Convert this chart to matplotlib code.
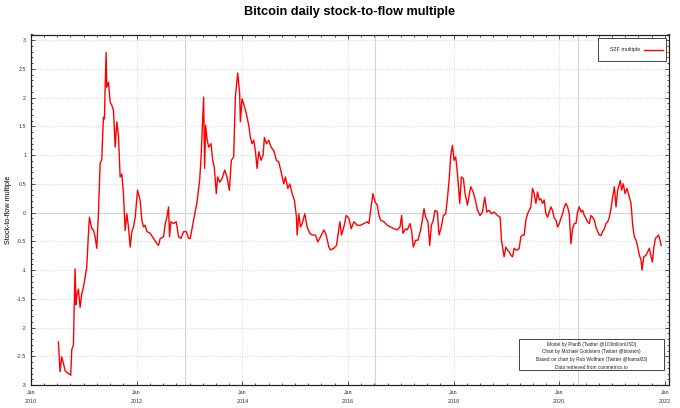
import matplotlib
matplotlib.use("Agg")
import matplotlib.pyplot as plt
import matplotlib.dates as mdates
from matplotlib.ticker import MultipleLocator, FuncFormatter
from matplotlib.patches import Rectangle
from matplotlib.lines import Line2D
import numpy as np
import pandas as pd

plt.rcParams["font.family"] = ["Liberation Sans", "DejaVu Sans"]

# decimal year of each reading, and the stock-to-flow multiple
years = [
    2010.518, 2010.550, 2010.581, 2010.613, 2010.645, 2010.689, 2010.727, 2010.752, 2010.771, 2010.803,
    2010.815, 2010.834, 2010.853, 2010.866, 2010.897, 2010.929, 2010.961, 2010.992, 2011.036, 2011.055,
    2011.087, 2011.106, 2011.150, 2011.182, 2011.213, 2011.245, 2011.276, 2011.308, 2011.340, 2011.352,
    2011.371, 2011.390, 2011.403, 2011.422, 2011.434, 2011.466, 2011.498, 2011.529, 2011.561, 2011.592,
    2011.624, 2011.656, 2011.687, 2011.719, 2011.750, 2011.782, 2011.814, 2011.845, 2011.877, 2011.908,
    2011.940, 2011.972, 2012.016, 2012.066, 2012.098, 2012.129, 2012.161, 2012.193, 2012.256, 2012.319,
    2012.382, 2012.414, 2012.445, 2012.509, 2012.540, 2012.572, 2012.603, 2012.622, 2012.647, 2012.698,
    2012.749, 2012.793, 2012.837, 2012.888, 2012.938, 2012.983,
    2013.014, 2013.077, 2013.141, 2013.191, 2013.216, 2013.242, 2013.267, 2013.286, 2013.305, 2013.330,
    2013.362, 2013.406, 2013.438, 2013.469, 2013.507, 2013.532, 2013.570, 2013.615, 2013.665, 2013.709,
    2013.754, 2013.791, 2013.836, 2013.867, 2013.912, 2013.949, 2013.962, 2013.994, 2014.025, 2014.069,
    2014.120, 2014.152, 2014.183, 2014.215, 2014.246, 2014.278, 2014.310, 2014.354, 2014.392, 2014.417,
    2014.455, 2014.499, 2014.543, 2014.594, 2014.645, 2014.689, 2014.733, 2014.784, 2014.815, 2014.860,
    2014.897, 2014.942, 2014.986, 2015.024, 2015.036, 2015.068, 2015.100, 2015.131, 2015.182, 2015.226,
    2015.276, 2015.321, 2015.384, 2015.428, 2015.479, 2015.542, 2015.586, 2015.637, 2015.668, 2015.731,
    2015.782, 2015.845, 2015.877, 2015.921, 2015.965, 2016.016,
    2016.060, 2016.111, 2016.174, 2016.237, 2016.300, 2016.363, 2016.395, 2016.427, 2016.471, 2016.509,
    2016.553, 2016.585, 2016.616, 2016.679, 2016.742, 2016.806, 2016.869, 2016.932, 2016.983, 2017.014,
    2017.039, 2017.090, 2017.122, 2017.172, 2017.204, 2017.235, 2017.280, 2017.324, 2017.374, 2017.406,
    2017.438, 2017.469, 2017.513, 2017.545, 2017.577, 2017.614, 2017.646, 2017.690, 2017.722, 2017.766,
    2017.804, 2017.848, 2017.880, 2017.912, 2017.943, 2017.975, 2018.006, 2018.038, 2018.070, 2018.114,
    2018.145, 2018.183, 2018.215, 2018.259, 2018.291, 2018.322, 2018.367, 2018.417, 2018.449, 2018.499,
    2018.543, 2018.588, 2018.626, 2018.670, 2018.714, 2018.765, 2018.828, 2018.878, 2018.904, 2018.954,
    2018.986, 2019.018, 2019.049, 2019.081, 2019.112, 2019.144, 2019.175, 2019.207, 2019.239, 2019.270,
    2019.302, 2019.333, 2019.365, 2019.397, 2019.428, 2019.460, 2019.491, 2019.523, 2019.555, 2019.586,
    2019.618, 2019.649, 2019.681, 2019.712, 2019.744, 2019.776, 2019.807, 2019.839, 2019.870, 2019.902,
    2019.934, 2019.965, 2019.997, 2020.028, 2020.060, 2020.092, 2020.123, 2020.155, 2020.186, 2020.218,
    2020.250, 2020.281, 2020.313, 2020.344, 2020.376, 2020.408, 2020.439, 2020.471, 2020.502, 2020.534,
    2020.566, 2020.597, 2020.629, 2020.660, 2020.692, 2020.724, 2020.755, 2020.787, 2020.818, 2020.850,
    2020.882, 2020.913, 2020.945, 2020.976, 2021.008, 2021.040, 2021.071, 2021.103, 2021.134, 2021.153,
    2021.178, 2021.210, 2021.242, 2021.280, 2021.324, 2021.355, 2021.387, 2021.418, 2021.450, 2021.482,
    2021.513, 2021.545, 2021.564, 2021.596, 2021.640, 2021.671, 2021.703, 2021.735, 2021.760, 2021.785,
    2021.817, 2021.848, 2021.874, 2021.905, 2021.924,
]
s2f = [
    -2.25, -2.77, -2.51, -2.62, -2.75, -2.79, -2.81, -2.83, -2.39, -2.30,
    -1.75, -0.98, -1.60, -1.45, -1.33, -1.65, -1.41, -1.30, -1.06, -0.95,
    -0.37, -0.08, -0.28, -0.30, -0.42, -0.62, -0.02, 0.86, 0.92, 1.26,
    1.66, 1.63, 2.18, 2.79, 2.18, 2.27, 1.92, 1.87, 1.78, 1.14,
    1.58, 1.32, 0.62, 0.67, 0.33, -0.31, -0.02, -0.25, -0.60, -0.33,
    -0.25, -0.08, 0.39, 0.21, -0.13, -0.25, -0.22, -0.33, -0.36, -0.45,
    -0.54, -0.57, -0.45, -0.42, -0.19, -0.08, 0.10, -0.42, -0.16, -0.19,
    -0.16, -0.42, -0.45, -0.33, -0.33, -0.45,
    -0.45, -0.13, 0.18, 0.56, 0.91, 1.49, 2.01, 0.77, 1.52, 1.29,
    1.14, 1.20, 0.91, 0.79, 0.33, 0.62, 0.53, 0.59, 0.74, 0.62,
    0.39, 0.91, 0.97, 2.01, 2.43, 2.07, 1.58, 1.98, 1.89, 1.75,
    1.52, 1.31, 1.20, 1.26, 1.08, 0.77, 1.06, 0.91, 1.00, 1.31,
    1.20, 1.26, 1.14, 1.08, 0.91, 0.88, 0.71, 0.50, 0.62, 0.42,
    0.50, 0.33, 0.21, -0.08, -0.39, -0.02, -0.25, -0.19, -0.02, -0.25,
    -0.36, -0.39, -0.39, -0.51, -0.42, -0.30, -0.39, -0.60, -0.65, -0.62,
    -0.57, -0.16, -0.39, -0.25, -0.05, -0.10,
    -0.28, -0.16, -0.22, -0.22, -0.19, -0.16, -0.19, 0.04, 0.33, 0.19,
    0.13, -0.05, -0.13, -0.16, -0.22, -0.25, -0.28, -0.30, -0.25, -0.05,
    -0.36, -0.28, -0.30, -0.19, -0.33, -0.60, -0.48, -0.48, -0.30, -0.13,
    0.07, -0.08, -0.16, -0.57, -0.22, -0.13, 0.04, 0.01, -0.39, -0.25,
    -0.05, -0.02, 0.24, 0.56, 0.99, 1.17, 0.91, 0.97, 0.68, 0.16,
    0.62, 0.59, 0.33, 0.13, 0.30, 0.45, 0.36, 0.19, 0.04, -0.05,
    0.01, 0.27, 0.01, 0.04, -0.02, 0.01, -0.05, -0.08, -0.48, -0.77,
    -0.60, -0.65, -0.68, -0.74, -0.77, -0.62, -0.65, -0.65, -0.62, -0.42,
    -0.39, -0.39, -0.13, -0.02, 0.04, 0.10, 0.42, 0.33, 0.16, 0.36,
    0.22, 0.24, 0.16, 0.22, -0.02, -0.08, 0.01, 0.10, 0.04, -0.10,
    -0.13, -0.25, -0.19, -0.10, -0.02, 0.10, 0.16, 0.10, -0.02, -0.54,
    -0.28, -0.19, -0.19, 0.01, 0.10, 0.01, 0.04, -0.05, -0.10, -0.16,
    -0.19, -0.05, -0.08, -0.13, -0.25, -0.33, -0.39, -0.40, -0.33, -0.28,
    -0.19, -0.16, -0.08, 0.07, 0.27, 0.45, 0.10, 0.39, 0.50, 0.56,
    0.39, 0.50, 0.33, 0.42, 0.27, 0.16, -0.22, -0.42, -0.48, -0.60,
    -0.74, -0.83, -1.00, -0.77, -0.74, -0.68, -0.62, -0.77, -0.86, -0.62,
    -0.45, -0.42, -0.39, -0.48, -0.57,
]

halving_dates = ["2012-11-28", "2016-07-09", "2020-05-11"]
tick_years = [2010, 2012, 2014, 2016, 2018, 2020, 2022]
credits = [
    "Model by PlanB (Twitter @100trillionUSD)",
    "Chart by Michael Goldstein (Twitter @bitstein)",
    "Based on chart by Rob Wolfram (Twitter @hamal03)",
    "Data retrieved from coinmetrics.io",
]

W, H = 680, 408


def year_to_date(y):
    y = np.asarray(y)
    return pd.Timestamp("2010-01-01") + pd.to_timedelta((y - 2010) * 365.25, unit="D")


def fx(px):
    return px / W


def fy(py):
    return 1 - py / H


dates = year_to_date(years)

fig = plt.figure(figsize=(6.8, 4.08), dpi=100)
ax = fig.add_axes([fx(31), fy(385), 638 / W, 350.5 / H])

grid_kw = dict(color="#b4b4b4", linewidth=0.5, linestyle=(0, (1, 2.2)), zorder=0)
for v in np.arange(-3, 3.01, 0.5):
    if v != 0:
        ax.axhline(v, **grid_kw)
for y in tick_years:
    ax.axvline(pd.Timestamp(f"{y}-01-01"), **grid_kw)
ax.axhline(0, color="#d4d4d4", linewidth=0.8, zorder=1)
for d in halving_dates:
    ax.axvline(pd.Timestamp(d), color="#d4d4d4", linewidth=0.8, zorder=1)

ax.plot(dates, s2f, color="#ff0000", linewidth=1.0, zorder=3)

ax.set_xlim(pd.Timestamp("2010-01-01"), pd.Timestamp("2022-01-28"))
ax.set_ylim(-3, 3.1)

ax.xaxis.set_major_locator(mdates.YearLocator(2, month=1, day=1))
ax.xaxis.set_major_formatter(mdates.DateFormatter("Jan\n%Y"))
ax.xaxis.set_minor_locator(mdates.MonthLocator(bymonth=[1, 4, 7, 10]))
ax.yaxis.set_major_locator(MultipleLocator(0.5))
ax.yaxis.set_minor_locator(MultipleLocator(0.1))
ax.yaxis.set_major_formatter(FuncFormatter(lambda v, p: f"{v:g}"))

ax.tick_params(which="both", direction="in", top=True, right=True,
               labelsize=3.9, colors="#333333", width=0.6)
ax.tick_params(which="major", length=3, pad=3.5)
ax.tick_params(which="minor", length=1.6)
for lab in ax.get_xticklabels():
    lab.set_linespacing(2.0)
for sp in ax.spines.values():
    sp.set_linewidth(0.9)
    sp.set_color("#222222")

ax.set_ylabel("Stock-to-flow multiple", fontsize=5.2)
ax.yaxis.set_label_coords(-0.030, 0.5)
fig.text(fx(350), fy(12.5), "Bitcoin daily stock-to-flow multiple",
         ha="center", va="center", fontsize=9.2, fontweight="bold")

# key box, top right
fig.patches.append(Rectangle((fx(598), fy(61)), (665.5 - 598) / W, 23.3 / H,
                             transform=fig.transFigure, facecolor="white",
                             edgecolor="#444444", linewidth=0.7, zorder=5))
fig.text(fx(640), fy(49.5), "S2F multiple", ha="right", va="center",
         fontsize=3.9, color="#222222", zorder=6)
fig.lines.append(Line2D([fx(644), fx(663)], [fy(49.5), fy(49.5)],
                        transform=fig.transFigure, color="#ff0000",
                        linewidth=1.0, zorder=6))

# credits box, bottom right
fig.patches.append(Rectangle((fx(519), fy(370.3)), 144.7 / W, 31.3 / H,
                             transform=fig.transFigure, facecolor="white",
                             edgecolor="#444444", linewidth=0.7, zorder=5))
fig.text(fx(591.3), fy(355.7), "\n".join(credits), ha="center", va="center",
         fontsize=3.45, linespacing=1.65, color="#222222", zorder=6)

fig.savefig("out.png", dpi=100)
